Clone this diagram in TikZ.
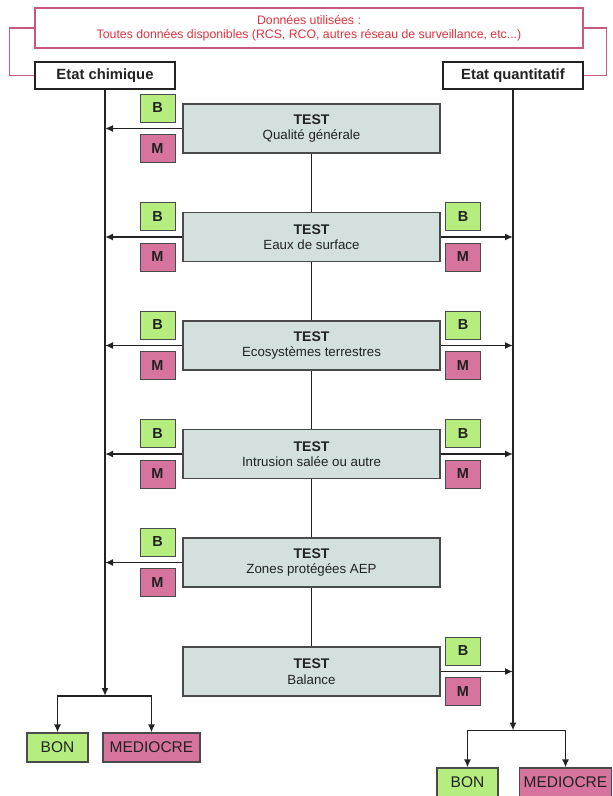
\documentclass[tikz,border=0pt]{standalone}
\usepackage{fontspec}
\setmainfont{Liberation Sans}
\usetikzlibrary{arrows.meta}
\definecolor{testfill}{HTML}{D4E0DE}
\definecolor{bgreen}{HTML}{B5EE7E}
\definecolor{mpink}{HTML}{D7749D}
\definecolor{pinkline}{HTML}{C85A82}
\definecolor{redtext}{HTML}{E0323F}
\definecolor{boxline}{HTML}{4A4A4A}
\definecolor{txt}{HTML}{222222}
\tikzset{
  conn/.style={draw=txt, line width=1.7pt},
  arr/.style={conn, -{Latex[length=8,width=7]}},
  pinkconn/.style={draw=pinkline, line width=1.1pt},
  tbox/.style={draw=boxline, fill=testfill, line width=1.5pt, minimum width=257, minimum height=49, align=center, inner sep=0, text=txt},
  bbox/.style={draw=boxline, fill=bgreen, line width=1pt, minimum width=35, minimum height=28, inner sep=0, text=txt, font=\bfseries\fontsize{14.5}{14.5}\selectfont},
  mbox/.style={bbox, fill=mpink},
  etat/.style={draw=txt, fill=white, line width=1.4pt, minimum height=27, inner sep=0, text=txt, font=\bfseries\fontsize{14.8}{14.8}\selectfont},
  res/.style={draw=boxline, line width=1.1pt, minimum height=29, inner sep=0, text=txt, font=\fontsize{15.5}{15.5}\selectfont},
  topbox/.style={draw=pinkline, line width=1.1pt, minimum width=548, minimum height=40, align=center, inner sep=0, text=redtext, font=\fontsize{12.3}{14.5}\selectfont},
}
\newcommand{\tst}[1]{{\bfseries\fontsize{14}{15}\selectfont TEST}\\[3.5pt]{\fontsize{13.3}{14}\selectfont #1}}
\begin{document}
\begin{tikzpicture}[x=1pt,y=-1pt]
\useasboundingbox (0,0) rectangle (613,796);
\fill[white] (0,0) rectangle (613,796);
% top
\node[topbox] (top) at (309,28) {Données utilisées :\\Toutes données disponibles (RCS, RCO, autres réseau de surveillance, etc...)};
\node[etat, minimum width=140] (chim) at (105,75.5) {Etat chimique};
\node[etat, minimum width=140] (quant) at (513,75.5) {Etat quantitatif};
\draw[pinkconn] (top.west) -- ++(-25,0) |- (chim.west);
\draw[pinkconn] (top.east) -- ++(23,0) |- (quant.east);
% tests
\node[tbox] (t1) at (311.5,128.5) {\tst{Qualité générale}};
\node[tbox] (t2) at (311.5,237) {\tst{Eaux de surface}};
\node[tbox] (t3) at (311.5,345.5) {\tst{Ecosystèmes terrestres}};
\node[tbox] (t4) at (311.5,454) {\tst{Intrusion salée ou autre}};
\node[tbox] (t5) at (311.5,562.5) {\tst{Zones protégées AEP}};
\node[tbox] (t6) at (311.5,671.5) {\tst{Balance}};
\draw[conn] (t1) -- (t2);
\draw[conn] (t2) -- (t3);
\draw[conn] (t3) -- (t4);
\draw[conn] (t4) -- (t5);
\draw[conn] (t5) -- (t6);
% left B/M
\foreach \t/\y in {t1/128.5,t2/237,t3/345.5,t4/454,t5/562.5}{
  \node[bbox] (lb\t) at (157.5,\y-20.5) {B};
  \node[mbox] (lm\t) at (157.5,\y+20) {M};
}
\foreach \t/\y in {t2/237,t3/345.5,t4/454,t6/671.5}{
  \node[bbox] (rb\t) at (463,\y-20.5) {B};
  \node[mbox] (rm\t) at (463,\y+20) {M};
}
% verticals
\coordinate (bl) at (105,696);
\coordinate (br) at (513,730.5);
\draw[arr] (chim.south) -- (bl);
\draw[arr] (quant.south) -- (br);
% arrows from tests
\foreach \t in {t1,t2,t3,t4,t5}{
  \draw[arr] (\t.west) -- (\t.west -| chim.south);
}
\foreach \t in {t2,t3,t4,t6}{
  \draw[arr] (\t.east) -- (\t.east -| quant.south);
}
% results
\node[res, fill=bgreen, minimum width=61] (bonL) at (57.5,747.5) {BON};
\node[res, fill=mpink, minimum width=97] (medL) at (151.5,747.5) {MEDIOCRE};
\node[res, fill=bgreen, minimum width=61] (bonR) at (467.5,782.5) {BON};
\node[res, fill=mpink, minimum width=92] (medR) at (565.5,782.5) {MEDIOCRE};
\draw[arr] (bl) -| (bonL.north);
\draw[arr] (bl) -| (medL.north);
\draw[arr] (br) -| (bonR.north);
\draw[arr] (br) -| (medR.north);
\end{tikzpicture}
\end{document}
